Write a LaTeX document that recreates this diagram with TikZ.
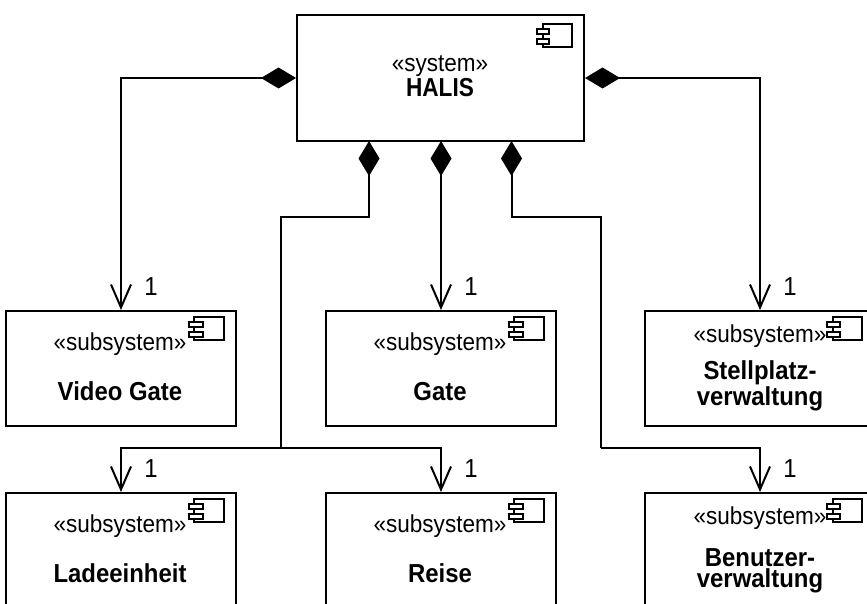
\documentclass[tikz,border=0pt]{standalone}
\usepackage{fontspec}
\setmainfont{Liberation Sans}[FakeStretch=0.92]
\newfontfamily\halisfont{Liberation Sans}[FakeStretch=0.87]
\usetikzlibrary{arrows.meta}
\tikzset{
  x=1pt,y=-1pt,
  box/.style={draw=black,line width=2pt,fill=white,minimum width=230pt,minimum height=115pt,inner sep=0pt},
  mainbox/.style={box,minimum width=287pt,minimum height=126pt},
  stereo/.style={inner sep=0pt,anchor=base,font=\fontsize{24.5}{24.5}\selectfont},
  nameb/.style={inner sep=0pt,anchor=base,align=center,font=\fontsize{26}{21.5}\selectfont\bfseries},
  mult/.style={inner sep=0pt,anchor=base,font=\fontsize{26}{26}\selectfont},
  comp/.style={line width=2pt,{Diamond[length=35pt,width=21pt,sep=0pt]}-{Straight Barb[length=23pt,width=20pt,line width=2pt]},line join=miter},
  nav/.style={line width=2pt,-{Straight Barb[length=23pt,width=20pt,line width=2pt]}},
  icon/.style={draw=black,line width=1.6pt,fill=white},
}
\newcommand{\compicon}[5]{% body x0,x1 tab x0,x1 top y
  \draw[icon] (#1,#5) rectangle (#2,#5+23);
  \draw[icon] (#3,#5+5) rectangle (#4,#5+10);
  \draw[icon] (#3,#5+15) rectangle (#4,#5+20);
}
\begin{document}
\begin{tikzpicture}
\useasboundingbox (0,0) rectangle (867,604);
\clip (0,0) rectangle (867,604);
\fill[white] (0,0) rectangle (867,604);
% boxes
\node[mainbox] (halis) at (440.5,78) {};
\node[box] (video) at (121,368.5) {};
\node[box] (gate) at (440.5,368.5) {};
\node[box] (stell) at (760,368.5) {};
\node[box] (lade) at (121,550.5) {};
\node[box] (reise) at (441,550.5) {};
\node[box] (benu) at (760,550.5) {};
% junctions
\coordinate (sL) at (369,141);
\coordinate (sM) at (441,141);
\coordinate (sR) at (511.5,141);
\coordinate (a1) at (369,217);
\coordinate (a2) at (281,217);
\coordinate (a3) at (281,448);
\coordinate (b1) at (511.5,217);
\coordinate (b2) at (601,217);
\coordinate (b3) at (601,448);
% connectors
\draw[comp] (halis.west) -| (video.north);
\draw[comp] (halis.east) -| (stell.north);
\draw[comp] (sM) -- (sM |- gate.north);
\draw[line width=2pt,{Diamond[length=35pt,width=21pt,sep=0pt]}-,line join=miter] (sL) -- (a1) -- (a2) -- (a3);
\draw[nav] (a3) -| (lade.north);
\draw[nav] (a3) -| (reise.north);
\draw[line width=2pt,{Diamond[length=35pt,width=21pt,sep=0pt]}-,line join=miter] (sR) -- (b1) -- (b2) -- (b3);
\draw[nav] (b3) -| (benu.north);
% icons
\compicon{543}{572}{537}{549}{24}
\compicon{194}{224}{189}{203}{317}
\compicon{514}{544}{509}{523}{317}
\compicon{833}{862}{827}{840}{317}
\compicon{194}{224}{189}{203}{499}
\compicon{514}{544}{509}{523}{499}
\compicon{833}{862}{827}{840}{499}
% texts
\node[stereo] (t0) at (440,71.7) {«system»};
\node[nameb] (n0) at (440,96.7) {\halisfont HALIS};
\node[stereo] (t1) at (120,350) {«subsystem»};
\node[nameb] (n1) at (120,400.5) {Video Gate};
\node[stereo] (t2) at (440,350) {«subsystem»};
\node[nameb] (n2) at (440,400.5) {Gate};
\node[stereo] (t3) at (760,342.7) {«subsystem»};
\node[nameb] (n3) at (760,405) {Stellplatz-\\verwaltung};
\node[stereo] (t4) at (120,532) {«subsystem»};
\node[nameb] (n4) at (120,582) {Ladeeinheit};
\node[stereo] (t5) at (440,532) {«subsystem»};
\node[nameb] (n5) at (440,582) {Reise};
\node[stereo] (t6) at (760,524.5) {«subsystem»};
\node[nameb] (n6) at (760,587.5) {Benutzer-\\verwaltung};
% multiplicities
\node[mult] (m1) at (151,295) {1};
\node[mult] (m2) at (471,295) {1};
\node[mult] (m3) at (790,295) {1};
\node[mult] (m4) at (151,477.5) {1};
\node[mult] (m5) at (471,477.5) {1};
\node[mult] (m6) at (790,477.5) {1};
\end{tikzpicture}
\end{document}
